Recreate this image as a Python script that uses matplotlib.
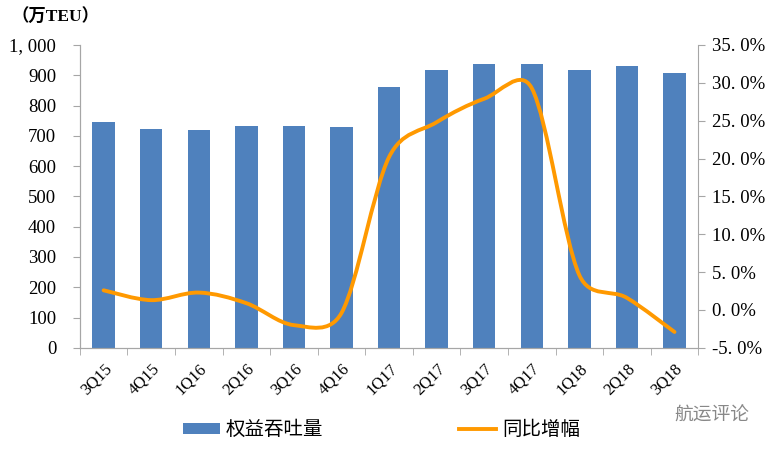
import matplotlib
matplotlib.use("Agg")
import matplotlib.pyplot as plt
import numpy as np
from matplotlib.path import Path
from matplotlib.patches import PathPatch, Patch
from matplotlib.lines import Line2D
from matplotlib.ticker import FuncFormatter, FixedLocator

plt.rcParams["font.family"] = ["Liberation Serif", "Noto Sans CJK SC", "DejaVu Sans"]

quarters = ["3Q15", "4Q15", "1Q16", "2Q16", "3Q16", "4Q16", "1Q17",
            "2Q17", "3Q17", "4Q17", "1Q18", "2Q18", "3Q18"]
throughput = [746, 722, 718, 734, 731, 728, 861, 917, 937, 937, 917, 931, 909]
yoy_growth = [2.6, 1.3, 2.3, 0.9, -2.0, -0.4, 20.2, 24.8, 27.9, 29.3, 4.6, 1.6, -2.9]

bar_color = "#4F81BD"
line_color = "#FF9900"
axis_color = "#A6A6A6"


def smooth_path(ax, xs, ys):
    # Excel-style smoothed line: Bezier segments, handles 1/6 of the
    # neighbour chord but never longer than half the segment (screen units)
    pts = ax.transData.transform(np.column_stack([xs, ys]))
    n = len(pts)
    verts = [pts[0]]
    codes = [Path.MOVETO]
    for i in range(n - 1):
        p0 = pts[max(i - 1, 0)]
        p1, p2 = pts[i], pts[i + 1]
        p3 = pts[min(i + 2, n - 1)]
        d12 = np.hypot(*(p2 - p1))
        d02 = np.hypot(*(p2 - p0))
        d13 = np.hypot(*(p3 - p1))
        f1 = min(1 / 6, d12 / (2 * d02)) if d02 > 0 else 0
        f2 = min(1 / 6, d12 / (2 * d13)) if d13 > 0 else 0
        verts += [p1 + (p2 - p0) * f1, p2 - (p3 - p1) * f2, p2]
        codes += [Path.CURVE4] * 3
    verts = ax.transData.inverted().transform(np.array(verts))
    return Path(verts, codes)


fig = plt.figure(figsize=(7.75, 4.5), dpi=100)
ax = fig.add_axes([0.103, 0.227, 0.798, 0.673])
ax2 = ax.twinx()

x = np.arange(len(quarters))
ax.bar(x, throughput, width=0.47, color=bar_color, zorder=2)
ax.set_xlim(-0.5, len(quarters) - 0.5)
ax.set_ylim(0, 1000)
ax.set_yticks(np.arange(0, 1001, 100))
ax.yaxis.set_major_formatter(FuncFormatter(lambda v, p: f"{int(v):,}".replace(",", ", ")))

ax.set_xticks(x)
ax.set_xticklabels(quarters, rotation=45, ha="right", rotation_mode="anchor")
ax.xaxis.set_minor_locator(FixedLocator(np.arange(-0.5, len(quarters), 1)))
ax.tick_params(axis="x", which="major", length=0, pad=9, labelsize=12)
ax.tick_params(axis="x", which="minor", length=5, color=axis_color, direction="out")
ax.tick_params(axis="y", length=5, color=axis_color, labelsize=13.5, pad=12)

ax2.set_ylim(-5, 35)
ax2.set_yticks(np.arange(-5, 36, 5))
ax2.yaxis.set_major_formatter(FuncFormatter(lambda v, p: f"{v:.1f}%".replace(".", ". ")))
ax2.tick_params(axis="y", length=5, color=axis_color, labelsize=13.5, pad=5)

ax2.add_patch(PathPatch(smooth_path(ax2, x, yoy_growth), facecolor="none",
                        edgecolor=line_color, linewidth=2.8, capstyle="round",
                        zorder=3))

for a in (ax, ax2):
    a.spines["top"].set_visible(False)
    for s in ("left", "right", "bottom"):
        a.spines[s].set_color(axis_color)
ax.spines["right"].set_visible(False)

fig.text(0.015, 0.962, "（万TEU）", fontsize=12.5, fontweight="bold",
         family=["Liberation Serif", "Noto Sans CJK SC"], va="center")

handles = [Patch(facecolor=bar_color), Line2D([], [], color=line_color, linewidth=2.8)]
fig.legend(handles, ["权益吞吐量", "同比增幅"], loc="center", ncol=2,
           bbox_to_anchor=(0.492, 0.045), frameon=False, handlelength=1.9,
           handleheight=0.45, handletextpad=0.3, columnspacing=7,
           prop={"family": "Noto Sans CJK SC", "size": 14})

fig.text(0.87, 0.078, "航运评论", fontsize=13.5, color="#888888",
         family="Noto Sans CJK SC", va="center")

fig.savefig("out.png", dpi=100)
